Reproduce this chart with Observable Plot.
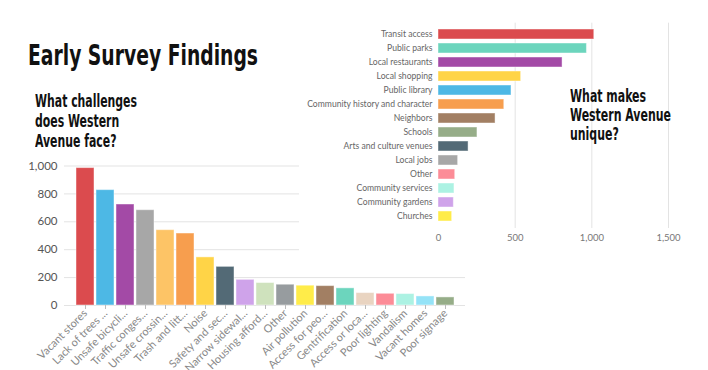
<!DOCTYPE html>
<html><head><meta charset="utf-8">
<script src="https://cdn.jsdelivr.net/npm/d3@7"></script>
<script src="https://cdn.jsdelivr.net/npm/@observablehq/plot@0.6"></script>
<style>
html,body{margin:0;padding:0;background:#fff;}
#wrap{position:relative;width:708px;height:370px;overflow:hidden;background:#fff;}
#left,#right{position:absolute;}
#left{left:0;top:150px;}
#right{left:299px;top:0;background:#fff;}
.hd{position:absolute;font-family:"Liberation Sans Narrow","DejaVu Sans Condensed","Roboto Condensed",sans-serif;font-weight:bold;color:#111;white-space:nowrap;transform-origin:0 0;}
#title{left:28px;top:39px;font-size:28.5px;line-height:34px;}
#q1{left:35px;top:91px;font-size:18px;line-height:19.8px;}
#q2{left:570px;top:86px;font-size:18px;line-height:19px;}
</style>
</head><body>
<div id="wrap">
  <div id="left"></div>
  <div id="right"></div>
  <div class="hd" id="title">Early Survey Findings</div>
  <div class="hd" id="q1">What challenges<br>does Western<br>Avenue face?</div>
  <div class="hd" id="q2">What makes<br>Western Avenue<br>unique?</div>
</div>
<script>
// Left chart: challenges
const challengeLabels = ["Vacant stores","Lack of trees ...","Unsafe bicycli...","Traffic conges...","Unsafe crossin...","Trash and litt...","Noise","Safety and sec...","Narrow sidewal...","Housing afford...","Other","Air pollution","Access for peo...","Gentrification","Access or loca...","Poor lighting","Vandalism","Vacant homes","Poor signage"];
const challengeValues = [985,827,724,683,540,516,345,277,184,161,149,142,139,123,89,84,82,65,58];
const challengeColors = ["#db4b4e","#4db8e5","#a34aa6","#a7a7a7","#fdc466","#f79e4e","#ffd447","#536a76","#cfa3ea","#cfe2bd","#979c9f","#ffec49","#a27f63","#6cd5bd","#e9d4c1","#fc8c97","#acf2e3","#95e3f7","#96ad88"];
const challengeTicks = [0,200,400,600,800,1000];

// Right chart: what makes it unique
const uniqueLabels = ["Transit access","Public parks","Local restaurants","Local shopping","Public library","Community history and character","Neighbors","Schools","Arts and culture venues","Local jobs","Other","Community services","Community gardens","Churches"];
const uniqueValues = [1016,968,809,539,476,429,372,254,196,128,109,104,100,89];
const uniqueColors = ["#db4b4e","#6cd5bd","#a34aa6","#ffd447","#4db8e5","#f79e4e","#a27f63","#96ad88","#536a76","#a7a7a7","#fc8c97","#acf2e3","#cfa3ea","#ffec49"];
const uniqueTicks = [0,500,1000,1500];

const font = "Lato, 'Open Sans', sans-serif";
const fmt = d3.format(",");

const left = challengeLabels.map((l,i)=>({label:l,value:challengeValues[i],color:challengeColors[i]}));
const right = uniqueLabels.map((l,i)=>({label:l,value:uniqueValues[i],color:uniqueColors[i]}));

const p1 = Plot.plot({
  width:470, height:240,
  marginTop:15.5, marginBottom:85, marginLeft:64, marginRight:5,
  style:{fontFamily:font, background:"transparent", overflow:"visible"},
  x:{domain:challengeLabels, padding:0.1, label:null},
  y:{domain:[0,1000], label:null},
  color:{type:"identity"},
  marks:[
    Plot.gridY(challengeTicks,{stroke:"#e3e3e3", strokeOpacity:1}),
    Plot.barY(left,{x:"label", y:"value", fill:"color", stroke:"#ffffff", strokeOpacity:0.45, strokeWidth:1}),
    Plot.axisY(challengeTicks,{tickSize:0, tickPadding:7, tickFormat:fmt, fontSize:11.5, fill:"#555"}),
    Plot.axisX({tickRotate:-45, tickSize:4, tickPadding:2, stroke:"#bbb", fill:"#888", fontSize:11})
  ]
});
document.getElementById("left").appendChild(p1);

const p2 = Plot.plot({
  width:409, height:260,
  marginTop:22.67, marginBottom:32, marginLeft:139, marginRight:40,
  style:{fontFamily:font, background:"#fff"},
  x:{domain:[0,1500], label:null},
  y:{domain:uniqueLabels, paddingInner:0.26, paddingOuter:0.13, label:null},
  color:{type:"identity"},
  marks:[
    Plot.gridX([500,1000,1500],{stroke:"#e3e3e3", strokeOpacity:1}),
    Plot.barX(right,{y:"label", x:"value", fill:"color", stroke:"#ffffff", strokeOpacity:0.45, strokeWidth:1}),
    Plot.axisY({tickSize:0, tickPadding:6, fontSize:8.6, fill:"#666"}),
    Plot.axisX(uniqueTicks,{tickSize:0, tickPadding:6, tickFormat:fmt, fontSize:9.5, fill:"#777"})
  ]
});
document.getElementById("right").appendChild(p2);

// fit headline widths to the reference
function fit(id, target){
  const el = document.getElementById(id);
  el.style.display = "inline-block";
  const w = el.getBoundingClientRect().width;
  el.style.transform = `scaleX(${target / w})`;
}
fit("title", 230);
fit("q1", 102);
fit("q2", 101);
</script>
</body></html>
